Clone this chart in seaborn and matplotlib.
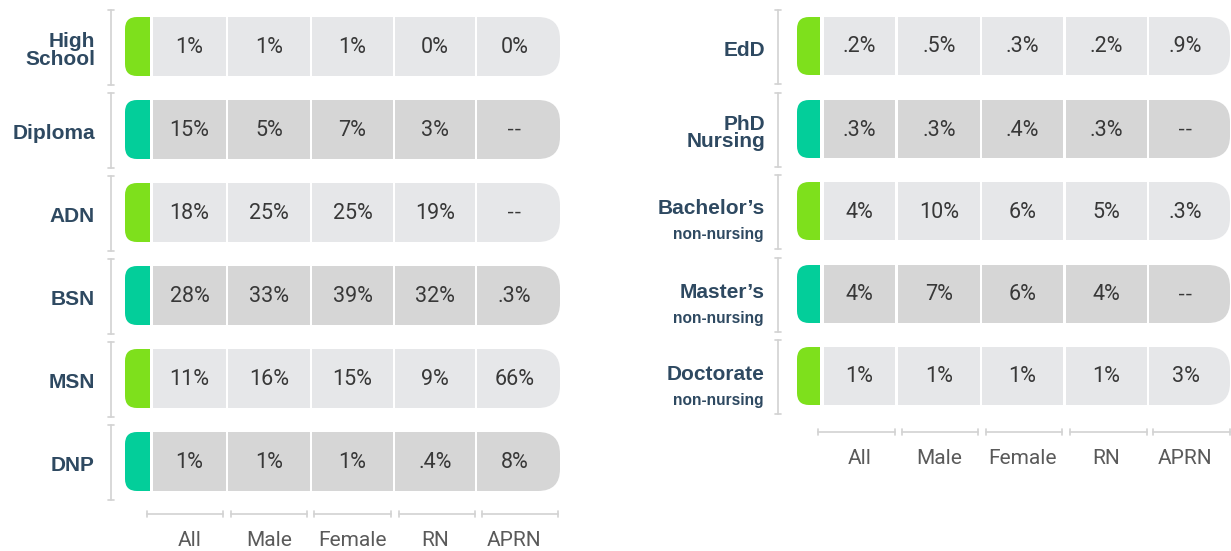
import numpy as np
import matplotlib
matplotlib.use("Agg")
import matplotlib.pyplot as plt
from matplotlib.patches import FancyBboxPatch, Rectangle
import seaborn as sns

# data
columns = ["All", "Male", "Female", "RN", "APRN"]

left_levels = ["High\nSchool", "Diploma", "ADN", "BSN", "MSN", "DNP"]
left_sub = ["", "", "", "", "", ""]
left_values = [
    ["1%", "1%", "1%", "0%", "0%"],
    ["15%", "5%", "7%", "3%", "--"],
    ["18%", "25%", "25%", "19%", "--"],
    ["28%", "33%", "39%", "32%", ".3%"],
    ["11%", "16%", "15%", "9%", "66%"],
    ["1%", "1%", "1%", ".4%", "8%"],
]

right_levels = ["EdD", "PhD\nNursing", "Bachelor\u2019s", "Master\u2019s", "Doctorate"]
right_sub = ["", "", "non-nursing", "non-nursing", "non-nursing"]
right_values = [
    [".2%", ".5%", ".3%", ".2%", ".9%"],
    [".3%", ".3%", ".4%", ".3%", "--"],
    ["4%", "10%", "6%", "5%", ".3%"],
    ["4%", "7%", "6%", "4%", "--"],
    ["1%", "1%", "1%", "1%", "3%"],
]

sns.set_theme(style="white")
plt.rcParams['font.family'] = ['Liberation Sans', 'DejaVu Sans']

LIME, TEAL = "#7EE01C", "#03CE9A"
LIGHT, DARK = "#E6E7E9", "#D6D6D6"
LABEL_C = "#2E4961"
TEXT_C = "#383838"
RULE_C = "#D2D2D2"
THIN = ['Roboto', 'DejaVu Sans']

fig = plt.figure(figsize=(12.31, 5.51), dpi=100)
ax = fig.add_axes([0, 0, 1, 1])
ax.set_xlim(0, 1231)
ax.set_ylim(551, 0)
ax.axis("off")


def draw_panel(levels, subs, values, tab, cells, brackets, tops, h,
               label_x, vbar_x, col_y, col_label_y):
    for i, (lvl, sub, row) in enumerate(zip(levels, subs, values)):
        y = tops[i]
        cy = y + h / 2
        fill = LIGHT if i % 2 == 0 else DARK
        tabc = LIME if i % 2 == 0 else TEAL
        # left tab, rounded on the left only
        ax.add_patch(FancyBboxPatch((tab[0], y), tab[1] - tab[0] + 14, h,
                                    boxstyle="round,pad=0,rounding_size=12",
                                    fc=tabc, ec="none", zorder=2))
        # last cell rounded on the right
        x0, x1 = cells[-1]
        ax.add_patch(FancyBboxPatch((x0 - 40, y), x1 - x0 + 40, h,
                                    boxstyle="round,pad=0,rounding_size=22",
                                    fc=fill, ec="none", zorder=2))
        ax.add_patch(Rectangle((tab[1], y), cells[0][0] - tab[1], h,
                               fc="white", ec="none", zorder=3))
        for j, (a, b) in enumerate(cells):
            if j < len(cells) - 1:
                ax.add_patch(Rectangle((a, y), b - a, h, fc=fill, ec="none", zorder=3))
                nxt = cells[j + 1][0]
                ax.add_patch(Rectangle((b, y), nxt - b, h, fc="white", ec="none", zorder=4))
            xc = (a + b) / 2 - (4 if j == len(cells) - 1 else 0)
            fam = ['Liberation Sans'] if row[j] == "--" else THIN
            ax.text(xc, cy + 1, row[j], ha="center", va="center", fontsize=15.5,
                    color=TEXT_C, family=fam, fontweight="normal", zorder=5)
        # labels
        if sub:
            ax.text(label_x, cy - 2, lvl, ha="right", va="center", fontsize=15,
                    fontweight="bold", color=LABEL_C, linespacing=0.9)
            ax.text(label_x - 2, cy + 24, sub, ha="right", va="center", fontsize=11.2,
                    fontweight="bold", color=LABEL_C)
        else:
            ax.text(label_x, cy + 4, lvl, ha="right", va="center", fontsize=15,
                    fontweight="bold", color=LABEL_C, linespacing=0.9)
        # vertical bracket
        ax.plot([vbar_x, vbar_x], [y - 7, y + h + 9], color=RULE_C, lw=1.2)
        for yy in (y - 7, y + h + 9):
            ax.plot([vbar_x - 3, vbar_x + 3], [yy, yy], color=RULE_C, lw=1.2)
    # column brackets and labels
    for j, ((a, b), (a2, b2)) in enumerate(zip(cells, brackets)):
        ax.plot([a2, b2], [col_y, col_y], color=RULE_C, lw=1.2)
        for xx in (a2, b2):
            ax.plot([xx, xx], [col_y - 3, col_y + 3], color=RULE_C, lw=1.2)
        xc = (a + b) / 2 - (4 if j == len(cells) - 1 else 0)
        ax.text(xc, col_label_y, columns[j], ha="center", va="center", fontsize=15,
                color="#5A5A5A", family=THIN, fontweight="normal")


draw_panel(left_levels, left_sub, left_values,
           tab=(125, 150),
           cells=[(153, 226), (228, 310), (312, 393), (395, 475), (477, 560)],
           brackets=[(147, 223), (231, 307), (314, 391), (399, 475), (482, 558)],
           tops=[17, 100, 183, 266, 349, 432], h=59,
           label_x=95, vbar_x=111, col_y=514, col_label_y=540)

draw_panel(right_levels, right_sub, right_values,
           tab=(797, 820),
           cells=[(824, 895), (898, 980), (982, 1063), (1066, 1147), (1149, 1230)],
           brackets=[(818, 895), (902, 978), (986, 1062), (1070, 1147), (1153, 1230)],
           tops=[17, 100, 182, 265, 347], h=58,
           label_x=765, vbar_x=778, col_y=432, col_label_y=459)

fig.savefig("out.png", dpi=100, facecolor="white")
